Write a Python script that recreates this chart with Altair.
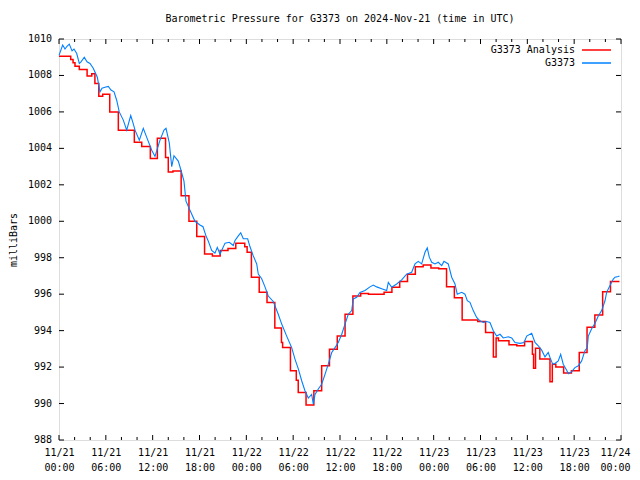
import altair as alt
import pandas as pd

# Station observations (G3373), hours after 2024-11-21 00:00 UTC, millibars
blue_hours = [0.0, 0.47, 0.77, 1.02, 1.32, 1.67, 1.92, 2.27, 2.6, 2.82, 3.24, 3.59, 3.97, 4.39, 4.91,
              5.25, 5.51, 5.89, 6.32, 6.66, 7.05, 7.39, 7.72, 8.24, 8.67, 9.19, 9.48, 9.74, 10.29, 10.8,
              11.24, 11.88, 12.3, 12.94, 13.45, 13.71, 14.13, 14.44, 14.73, 15.28, 15.63, 16.01, 16.27,
              16.78, 17.42, 18.06, 18.45, 18.83, 19.09, 19.56, 19.98, 20.28, 20.63, 21.27, 21.82, 22.33,
              22.55, 22.97, 23.28, 23.61, 24.17, 24.47, 24.89, 25.33, 25.53, 25.97, 26.39, 26.81, 27.45,
              28.09, 28.53, 29.17, 29.81, 30.23, 30.66, 31.09, 31.51, 31.94, 32.37, 32.58, 32.8, 33.22,
              33.65, 34.08, 34.5, 34.94, 35.36, 35.78, 36.22, 36.64, 37.06, 37.5, 37.7, 38.14, 38.56,
              39.2, 39.84, 40.26, 40.7, 41.34, 41.98, 42.19, 42.62, 43.26, 43.9, 44.54, 45.18, 45.61,
              46.03, 46.46, 46.89, 47.18, 47.44, 47.75, 48.17, 48.59, 49.03, 49.32, 49.87, 50.31, 50.73,
              51.02, 51.59, 52.01, 52.31, 52.65, 53.07, 53.51, 53.93, 54.36, 54.79, 55.21, 55.64, 56.07,
              56.5, 56.92, 57.56, 58.0, 58.42, 59.06, 59.57, 59.92, 60.56, 60.98, 61.4, 61.84, 62.26,
              62.68, 62.9, 63.25, 63.54, 63.96, 64.27, 64.6, 65.04, 65.25, 65.68, 66.1, 66.53, 66.96,
              67.38, 67.68, 67.81, 68.24, 68.67, 69.09, 69.52, 69.95, 70.16, 70.59, 71.01, 71.23, 71.65,
              71.8]
blue_mb = [1009.1, 1009.67, 1009.45, 1009.6, 1009.72, 1009.35, 1009.45, 1009.2, 1008.66, 1008.75,
           1009.0, 1008.75, 1008.66, 1008.4, 1007.9, 1007.1, 1007.3, 1007.35, 1007.4, 1007.2, 1007.1,
           1006.64, 1006.0, 1005.55, 1005.0, 1005.8, 1005.4, 1005.0, 1004.45, 1005.1, 1004.6, 1003.9,
           1003.56, 1004.45, 1005.0, 1005.1, 1004.3, 1003.0, 1003.6, 1003.3, 1002.8, 1002.2, 1001.1,
           1000.6, 1000.0, 999.8, 999.7, 999.2, 998.95, 998.4, 998.25, 998.56, 998.2, 998.8, 998.85,
           998.67, 998.95, 999.2, 999.37, 999.04, 999.04, 998.6, 998.1, 997.66, 997.1, 996.85, 996.4,
           995.9, 995.6, 994.9, 994.36, 993.7, 993.07, 992.44, 991.9, 991.25, 990.7, 990.3, 990.5,
           989.96, 990.5, 990.8, 991.06, 991.6, 992.16, 992.8, 993.07, 993.35, 993.8, 994.36, 994.9,
           995.1, 995.74, 995.83, 996.1, 996.2, 996.4, 996.5, 996.4, 996.3, 996.2, 996.65, 996.38,
           996.56, 996.78, 997.1, 997.2, 997.66, 997.8, 997.66, 998.3, 998.54, 998.03, 997.75, 997.66,
           997.75, 997.57, 997.8, 997.66, 996.93, 996.56, 996.0, 996.1, 996.0, 995.64, 995.55, 995.1,
           994.72, 994.54, 994.45, 994.5, 994.45, 993.99, 993.7, 993.8, 993.6, 993.66, 993.6, 993.35,
           993.3, 993.35, 993.7, 993.85, 993.35, 993.17, 992.93, 992.56, 992.8, 992.53, 992.16, 992.2,
           992.34, 992.7, 992.16, 991.83, 991.64, 991.75, 991.97, 992.07, 992.34, 992.9, 993.07, 993.7,
           994.1, 994.4, 994.8, 995.1, 995.64, 996.1, 996.47, 996.83, 996.93, 996.97, 997.0]

# Analysis (G3373 Analysis), step values, hours after 2024-11-21 00:00 UTC
red_hours = [0.0, 1.5, 1.8, 2.05, 2.6, 3.6, 4.2, 4.6, 5.1, 5.6, 6.5, 7.6, 9.65, 10.6, 11.7, 12.6,
             13.65, 14.0, 14.6, 15.65, 16.65, 17.65, 18.65, 19.65, 20.65, 21.65, 22.65, 23.8, 24.1,
             24.65, 25.65, 26.65, 27.65, 28.5, 28.65, 29.65, 30.4, 30.65, 31.65, 32.65, 33.65, 34.65,
             35.65, 36.65, 37.65, 38.65, 39.65, 40.65, 41.65, 42.65, 43.65, 44.65, 45.65, 46.65, 47.65,
             48.65, 49.65, 50.65, 51.65, 52.65, 53.65, 54.65, 55.65, 56.0, 56.3, 57.65, 58.65, 59.65,
             60.65, 60.8, 61.05, 61.6, 62.9, 63.2, 63.65, 64.65, 65.65, 66.65, 67.65, 68.65, 69.65,
             70.65, 71.8]
red_mb = [1009.05, 1008.88, 1008.7, 1008.5, 1008.33, 1007.97, 1008.1, 1007.56, 1006.86, 1006.97,
          1006.0, 1005.0, 1004.33, 1004.1, 1003.45, 1004.55, 1003.5, 1002.7, 1002.76, 1001.4, 1000.0,
          999.16, 998.2, 998.1, 998.4, 998.5, 998.8, 998.6, 998.3, 996.93, 996.1, 995.55, 994.14,
          993.35, 993.07, 991.8, 991.28, 990.6, 989.92, 990.7, 992.07, 992.98, 993.7, 994.9, 995.9,
          996.04, 996.0, 996.0, 996.1, 996.38, 996.7, 997.1, 997.5, 997.6, 997.44, 997.39, 996.41,
          995.8, 994.58, 994.58, 994.5, 993.9, 992.56, 993.6, 993.44, 993.22, 993.17, 993.4, 992.7,
          991.94, 993.04, 992.44, 991.19, 992.16, 992.0, 991.67, 991.8, 992.8, 994.18, 994.86, 996.14,
          996.7, 996.7]

x_major_hours = [0, 6, 12, 18, 24, 30, 36, 42, 48, 54, 60, 66, 72]
x_minor_hours = [2, 4, 8, 10, 14, 16, 20, 22, 26, 28, 32, 34, 38, 40, 44, 46, 50, 52, 56, 58,
                 62, 64, 68, 70]
y_tick_values = [988, 990, 992, 994, 996, 998, 1000, 1002, 1004, 1006, 1008, 1010]

series_names = ["G3373 Analysis", "G3373"]
series_colors = ["#ff0000", "#0080ff"]

BASE = pd.Timestamp("2024-11-21T00:00:00Z")


def iso(h):
    return (BASE + pd.Timedelta(hours=h)).strftime("%Y-%m-%dT%H:%M:%SZ")


def ms(h):
    return int((BASE + pd.Timedelta(hours=h)).timestamp() * 1000)


blue_df = pd.DataFrame({"time": [iso(h) for h in blue_hours], "mb": blue_mb})
red_df = pd.DataFrame({"time": [iso(h) for h in red_hours], "mb": red_mb})
major_df = pd.DataFrame({"time": [iso(h) for h in x_major_hours]})
minor_df = pd.DataFrame({"time": [iso(h) for h in x_minor_hours]})
ytick_df = pd.DataFrame({"mb": y_tick_values, "label": [str(v) for v in y_tick_values]})

W, H = 562, 401
FONT = "DejaVu Sans Mono"
FS = 10

xscale = alt.Scale(type="utc", domain=[ms(0), ms(72)], nice=False)
yscale = alt.Scale(domain=[988, 1010], nice=False, zero=False)

last_ms = ms(x_major_hours[-1])
x_axis = alt.Axis(
    values=[ms(h) for h in x_major_hours],
    labelExpr="[utcFormat(datum.value, '%m/%d'), utcFormat(datum.value, '%H:%M')]",
    labelBaseline="top", labelPadding=7, labelLineHeight=15, labelFlush=False,
    labelOverlap=False, ticks=False, domain=False, grid=False, title=None,
    labelFont=FONT, labelFontSize=FS, labelColor="black", labelAngle=0,
    labelOffset={"condition": {"test": f"datum.value >= {last_ms}", "value": -6}, "value": 0},
)
y_axis = alt.Axis(
    values=y_tick_values, labels=False, ticks=False, domain=False, grid=False,
    title="milliBars", titleFont=FONT, titleFontSize=FS, titleFontWeight="normal",
    titleColor="black", titleAngle=270, titleX=-46, titleY=H / 2, titleAlign="center",
    titleBaseline="middle",
)

red_line = alt.Chart(red_df).mark_line(
    color=series_colors[0], strokeWidth=1.5, interpolate="step-after"
).encode(
    x=alt.X("time:T", scale=xscale, axis=x_axis),
    y=alt.Y("mb:Q", scale=yscale, axis=y_axis),
)
blue_line = alt.Chart(blue_df).mark_line(
    color=series_colors[1], strokeWidth=1.1
).encode(
    x=alt.X("time:T", scale=xscale),
    y=alt.Y("mb:Q", scale=yscale),
)


def xticks(df, length, top):
    if top:
        enc = dict(y=alt.value(0), y2=alt.value(length))
    else:
        enc = dict(y=alt.value(H), y2=alt.value(H - length))
    return alt.Chart(df).mark_rule(color="black", strokeWidth=1).encode(
        x=alt.X("time:T", scale=xscale), **enc
    )


def yticks(length, right):
    if right:
        enc = dict(x=alt.value(W - length), x2=alt.value(W))
    else:
        enc = dict(x=alt.value(0), x2=alt.value(length))
    return alt.Chart(ytick_df).mark_rule(color="black", strokeWidth=1).encode(
        y=alt.Y("mb:Q", scale=yscale), **enc
    )


ylabels = alt.Chart(ytick_df).mark_text(
    align="right", baseline="middle", font=FONT, fontSize=FS, color="black"
).encode(y=alt.Y("mb:Q", scale=yscale), x=alt.value(-7), text="label:N")


def legend_entry(i, ypos):
    d = pd.DataFrame({"label": [series_names[i]]})
    txt = alt.Chart(d).mark_text(
        align="right", baseline="middle", font=FONT, fontSize=FS, color="black"
    ).encode(text="label:N", x=alt.value(516), y=alt.value(ypos))
    sw = alt.Chart(d).mark_rule(color=series_colors[i], strokeWidth=1.5).encode(
        x=alt.value(523), x2=alt.value(552), y=alt.value(ypos)
    )
    return txt + sw


chart = alt.layer(
    red_line, blue_line,
    xticks(major_df, 5, False), xticks(major_df, 5, True),
    xticks(minor_df, 3, False), xticks(minor_df, 3, True),
    yticks(5, False), yticks(5, True), ylabels,
    legend_entry(0, 11), legend_entry(1, 24),
).properties(
    width=W, height=H,
    title=alt.TitleParams(
        "Barometric Pressure for G3373 on 2024-Nov-21 (time in UTC)",
        font=FONT, fontSize=FS, fontWeight="normal", color="black", anchor="middle", offset=10,
    ),
    autosize=alt.AutoSizeParams(type="none"),
    padding={"left": 51, "top": 31, "right": 11, "bottom": 32},
).configure_view(stroke="black", strokeWidth=1).configure(background="white")

chart.save("out.html", embed_options={"renderer": "svg", "actions": False})
